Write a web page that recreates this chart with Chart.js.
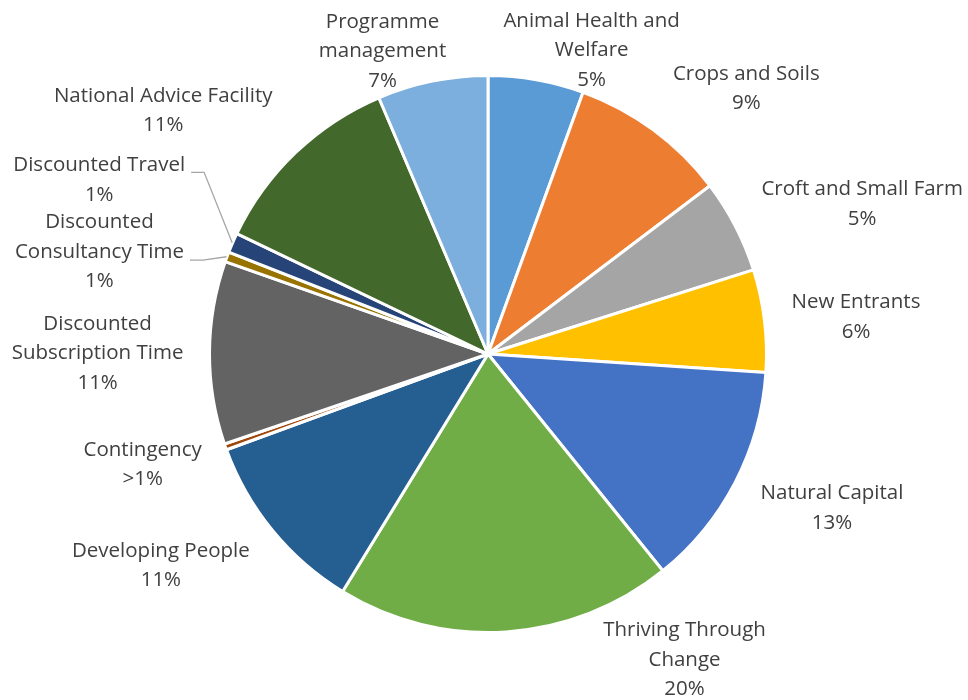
<!DOCTYPE html>
<html>
<head>
<meta charset="utf-8">
<script src="https://cdn.jsdelivr.net/npm/chart.js@4"></script>
<style>
html,body{margin:0;padding:0;background:#fff;}
canvas{display:block;}
</style>
</head>
<body>
<canvas id="c" width="968" height="700" style="width:968px;height:700px"></canvas>
<script>
// ---- data ----
const categories = [
  ["Animal Health and", "Welfare"],
  ["Crops and Soils"],
  ["Croft and Small Farm"],
  ["New Entrants"],
  ["Natural Capital"],
  ["Thriving Through", "Change"],
  ["Developing People"],
  ["Contingency"],
  ["Discounted", "Subscription Time"],
  ["Discounted", "Consultancy Time"],
  ["Discounted Travel"],
  ["National Advice Facility"],
  ["Programme", "management"]
];
const shares = [5.54, 9.12, 5.43, 5.93, 13.13, 19.52, 10.66, 0.35, 10.6, 0.58, 1.15, 11.47, 6.4];
const percentLabels = ["5%", "9%", "5%", "6%", "13%", "20%", "11%", ">1%", "11%", "1%", "1%", "11%", "7%"];

// ---- styles / layout ----
const colors = ["#5B9BD5", "#ED7D31", "#A5A5A5", "#FFC000", "#4472C4", "#70AD47", "#255E91",
                "#9E480E", "#636363", "#997300", "#264478", "#43682B", "#7CAFDD"];
// label nudges (px) from a radial anchor at 1.2 x radius on each slice's mid-angle
const labelNudge = [[46,24],[61,2],[79,3],[38,3],[49,1],[175,-26],[-70,1],[-32,0],[-58,1],[-77,14],[-84,-41],[-95,-3],[-39,23]];
// leader lines: null = none; value = vertical offset of horizontal stub from label centre
const leaderDy = [null,null,null,null,null,null,null,null,null,8,-8,null,null];

const FONT_SIZE = 20.5;
const FONT = FONT_SIZE + "px 'Open Sans', Lato, sans-serif";
const LINE_H = 29.5;

const labelPlugin = {
  id: 'pieLabels',
  afterDatasetsDraw(chart) {
    const ctx = chart.ctx;
    const meta = chart.getDatasetMeta(0);
    ctx.save();
    ctx.font = FONT;
    ctx.fillStyle = "#404040";
    ctx.textAlign = "center";
    ctx.textBaseline = "middle";
    meta.data.forEach((arc, i) => {
      const p = arc.getProps(['x','y','startAngle','endAngle','outerRadius'], true);
      const r = p.outerRadius - 1.5;
      const mid = (p.startAngle + p.endAngle) / 2;
      const ax = p.x + Math.cos(mid) * r * 1.2 + labelNudge[i][0];
      const ay = p.y + Math.sin(mid) * r * 1.2 + labelNudge[i][1];
      const lines = categories[i].concat([percentLabels[i]]);
      const top = ay - (lines.length - 1) * LINE_H / 2;
      let maxW = 0;
      lines.forEach((t, k) => {
        ctx.fillText(t, ax, top + k * LINE_H);
        maxW = Math.max(maxW, ctx.measureText(t).width);
      });
      if (leaderDy[i] !== null) {
        const sx = ax + maxW / 2 + 6;
        const sy = ay + leaderDy[i];
        const ex = p.x + Math.cos(mid) * (r + 2);
        const ey = p.y + Math.sin(mid) * (r + 2);
        ctx.beginPath();
        ctx.strokeStyle = "#A6A6A6";
        ctx.lineWidth = 1.3;
        ctx.moveTo(sx, sy);
        ctx.lineTo(sx + 13, sy);
        ctx.lineTo(ex, ey);
        ctx.stroke();
      }
    });
    ctx.restore();
  }
};

new Chart(document.getElementById('c'), {
  type: 'pie',
  data: {
    labels: categories.map(c => c.join(' ')),
    datasets: [{
      data: shares,
      backgroundColor: colors,
      borderColor: "#ffffff",
      borderWidth: 3,
      hoverOffset: 0
    }]
  },
  options: {
    responsive: false,
    animation: false,
    devicePixelRatio: 1,
    layout: { padding: { top: 74, bottom: 66, left: 8, right: 0 } },
    plugins: {
      legend: { display: false },
      tooltip: { enabled: false }
    }
  },
  plugins: [labelPlugin]
});
</script>
</body>
</html>
